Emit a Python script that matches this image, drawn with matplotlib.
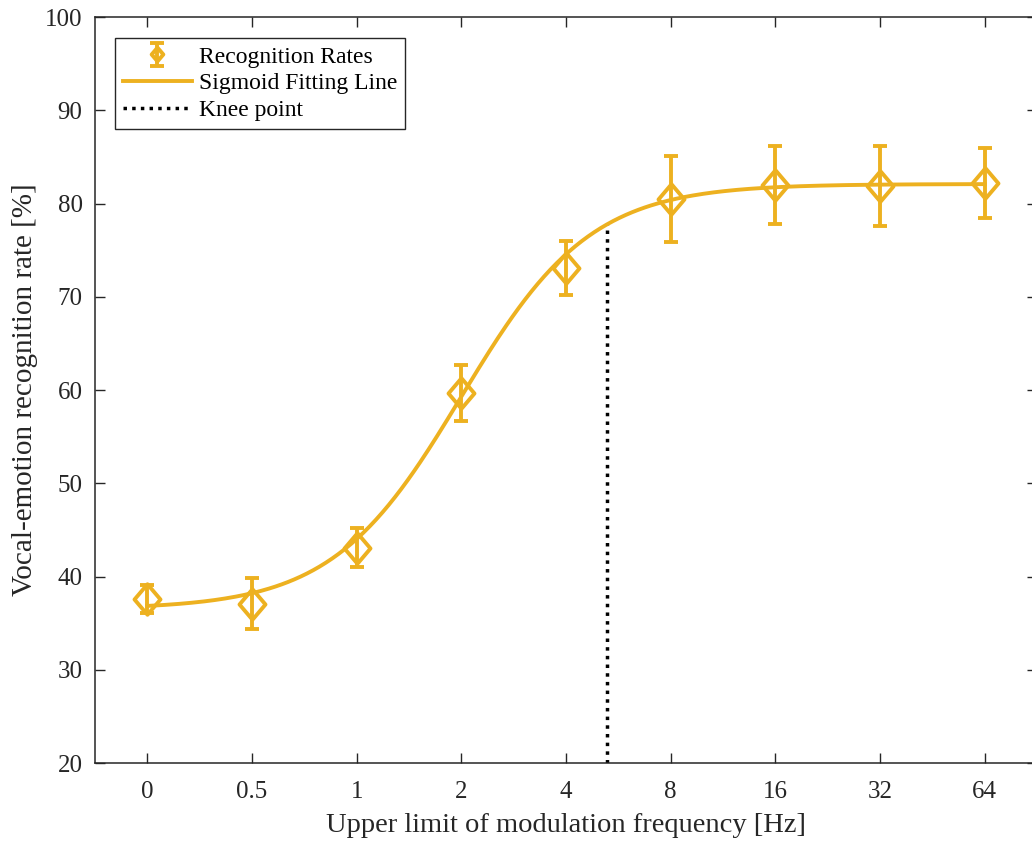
#!/usr/bin/env python3
# Tasa de reconocimiento de emociones vocales vs limite superior de
# frecuencia de modulacion, con ajuste sigmoide y punto de rodilla.

import numpy as np
import matplotlib
matplotlib.use("Agg")
import matplotlib.pyplot as plt
from matplotlib.path import Path

FRECUENCIAS = ["0", "0.5", "1", "2", "4", "8", "16", "32", "64"]
TASAS       = [37.6, 37.1, 43.1, 59.7, 73.1, 80.5, 82.0, 81.9, 82.2]
ERRORES     = [1.5, 2.7, 2.1, 3.0, 2.9, 4.6, 4.2, 4.3, 3.8]

# Parametros del ajuste sigmoide (en indice de frecuencia)
SIG_BASE      = 36.5
SIG_TECHO     = 82.1
SIG_PENDIENTE = 1.62
SIG_CENTRO    = 3.0

RODILLA_X = 4.39

COLOR = "#EDB120"
GRIS  = "#262626"
GROSOR = 2.8


def sigmoide(x):
    return SIG_BASE + (SIG_TECHO - SIG_BASE) / (1 + np.exp(-SIG_PENDIENTE * (x - SIG_CENTRO)))


plt.rcParams["font.family"] = ["Liberation Serif", "DejaVu Serif"]
plt.rcParams["mathtext.fontset"] = "stix"

fig = plt.figure(figsize=(10.32, 8.41), dpi=100)
ax = fig.add_axes([0.0921, 0.0927, 0.9128, 0.887])

x = np.arange(len(FRECUENCIAS))

# marcador rombo algo mas alto que ancho
rombo = Path([(0, 1), (0.85, 0), (0, -1), (-0.85, 0), (0, 1)],
             [Path.MOVETO, Path.LINETO, Path.LINETO, Path.LINETO, Path.CLOSEPOLY])

h_tasas = ax.errorbar(x, TASAS, yerr=ERRORES, linestyle="none", marker=rombo,
                      markersize=22, markerfacecolor="none", markeredgecolor=COLOR,
                      markeredgewidth=GROSOR, ecolor=COLOR, elinewidth=GROSOR,
                      capsize=5, capthick=GROSOR, label="Recognition Rates", zorder=3)

xs = np.linspace(0, len(FRECUENCIAS) - 1, 400)
h_sig, = ax.plot(xs, sigmoide(xs), color=COLOR, linewidth=GROSOR,
                 label="Sigmoid Fitting Line", zorder=2)

h_rod, = ax.plot([RODILLA_X, RODILLA_X], [20, sigmoide(RODILLA_X)], color="black",
                 linewidth=2.5, linestyle=(0, (1, 1.5)), label="Knee point", zorder=1)

ax.set_xlim(-0.5, len(FRECUENCIAS) - 0.5)
ax.set_ylim(20, 100)
ax.set_xticks(x)
ax.set_xticklabels(FRECUENCIAS)
ax.set_yticks(np.arange(20, 101, 10))

ax.tick_params(direction="in", length=7.2, width=1.0, colors=GRIS,
               labelsize=18, top=True, right=True, pad=9)
ax.tick_params(axis="x", pad=13)
for lado in ax.spines.values():
    lado.set_color(GRIS)
    lado.set_linewidth(1.1)

ax.set_xlabel("Upper limit of modulation frequency [Hz]", fontsize=20.5,
              color=GRIS, labelpad=7)
ax.set_ylabel("Vocal-emotion recognition rate [%]", fontsize=21,
              color=GRIS, labelpad=5)

leg = ax.legend([h_tasas, h_sig, h_rod],
                ["Recognition Rates", "Sigmoid Fitting Line", "Knee point"],
                loc="upper left", bbox_to_anchor=(0.021, 0.972), fontsize=17,
                frameon=True, fancybox=False, framealpha=1, edgecolor=GRIS,
                handlelength=2.9, handletextpad=0.3, borderpad=0.35,
                labelspacing=0.22, markerscale=0.45, borderaxespad=0)
leg.get_frame().set_linewidth(1.0)

fig.savefig("out.png", dpi=100)
